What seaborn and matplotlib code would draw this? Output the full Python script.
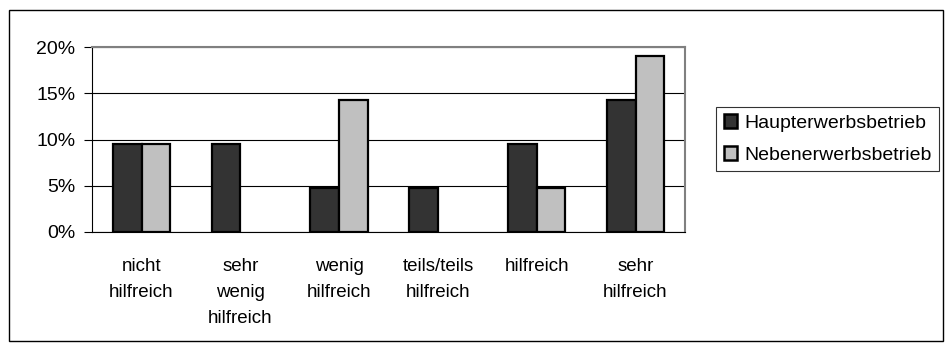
import pandas as pd
import matplotlib.pyplot as plt
import seaborn as sns
from matplotlib.patches import Rectangle

# categories and shares (percent)
categories = ['nicht\nhilfreich', 'sehr\nwenig\nhilfreich', 'wenig\nhilfreich',
              'teils/teils\nhilfreich', 'hilfreich', 'sehr\nhilfreich']
haupt = [9.5, 9.5, 4.8, 4.8, 9.5, 14.3]
neben = [9.5, 0.0, 14.3, 0.0, 4.8, 19.0]
series = ['Haupterwerbsbetrieb', 'Nebenerwerbsbetrieb']

df = pd.DataFrame({
    'cat': categories * 2,
    'val': haupt + neben,
    'typ': [series[0]] * 6 + [series[1]] * 6,
})

sns.set_style('white')
plt.rcParams['font.family'] = ['Liberation Sans', 'DejaVu Sans']
plt.rcParams['text.color'] = 'black'
plt.rcParams['xtick.color'] = 'black'
plt.rcParams['ytick.color'] = 'black'

fig = plt.figure(figsize=(9.5, 3.52), dpi=100)
ax = fig.add_axes([0.097, 0.341, 0.624, 0.525])

sns.barplot(data=df, x='cat', y='val', hue='typ', order=categories,
            palette=['#333333', '#c0c0c0'], width=0.58,
            edgecolor='black', linewidth=1.6, ax=ax)

# empty bars are not drawn in the original
for p in ax.patches:
    if p.get_height() == 0:
        p.set_linewidth(0)

ax.set_ylim(0, 20)
ax.set_xlim(-0.5, 5.5)
ax.set_yticks([0, 5, 10, 15, 20])
ax.set_yticklabels(['0%', '5%', '10%', '15%', '20%'], fontsize=14)
ax.yaxis.grid(True, color='black', linewidth=0.8)
ax.set_axisbelow(True)
ax.set_xlabel('')
ax.set_ylabel('')

ax.set_xticks(range(6))
ax.set_xticklabels(categories, fontsize=13.5, linespacing=1.72)
ax.tick_params(axis='x', length=0, pad=18.5)
ax.set_xticks([i - 0.5 for i in range(7)], minor=True)
ax.tick_params(axis='x', which='minor', length=5, color='black', width=0.8, direction='out')
ax.tick_params(axis='y', length=6, color='black', width=0.8, direction='out', left=True, pad=6)

for s in ['left', 'bottom']:
    ax.spines[s].set_color('black')
    ax.spines[s].set_linewidth(0.8)
for s in ['top', 'right']:
    ax.spines[s].set_color('#808080')
    ax.spines[s].set_linewidth(1.5)

leg = ax.legend(loc='center left', bbox_to_anchor=(1.052, 0.503), fontsize=14,
                frameon=True, fancybox=False, edgecolor='black',
                handlelength=0.7, handleheight=0.7, handletextpad=0.35,
                borderpad=0.4, labelspacing=0.72, borderaxespad=0)
leg.get_frame().set_linewidth(0.8)
for h in leg.legend_handles:
    h.set_linewidth(1.8)

fig.patches.append(Rectangle((9 / 950, 11 / 352), 934 / 950, 331 / 352,
                             transform=fig.transFigure, fill=False,
                             edgecolor='black', linewidth=1))

fig.savefig('out.png', dpi=100)
